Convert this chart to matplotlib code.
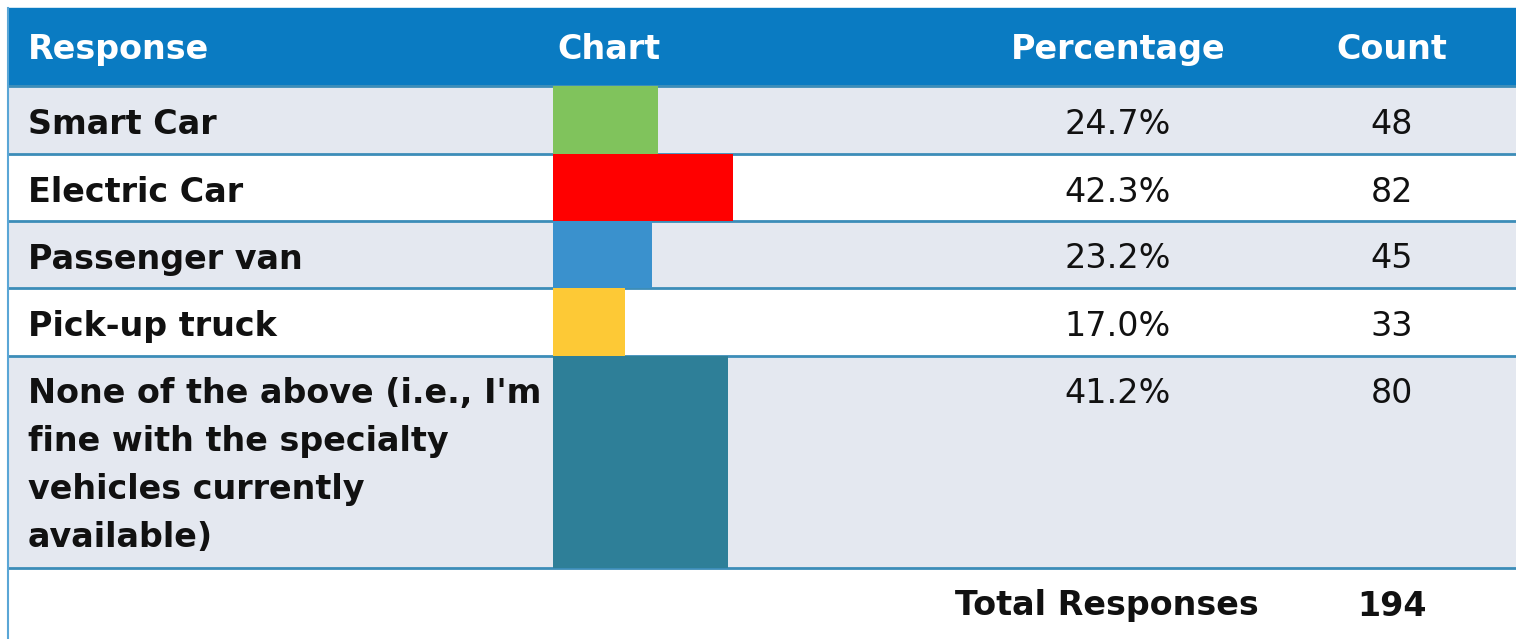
import matplotlib.pyplot as plt

# data
responses = ['Smart Car', 'Electric Car', 'Passenger van', 'Pick-up truck',
             "None of the above (i.e., I'm\nfine with the specialty\nvehicles currently\navailable)"]
percentages = [24.7, 42.3, 23.2, 17.0, 41.2]
counts = [48, 82, 45, 33, 80]
total = 194
headers = ['Response', 'Chart', 'Percentage', 'Count']
bar_colors = ['#80C35C', '#FF0000', '#3A91CD', '#FDC936', '#2E7F98']

# layout in pixels (figure is 1516 x 639)
W, H = 1516, 639
row_edges = [86, 154, 221, 288, 356, 568]
header_top = 8
line_gap = 48
x_resp, x_chart, x_pct, x_cnt = 28, 557, 1118, 1392
bar_x0 = 553
px_per_pct = 4.25

header_blue = '#0A7BC2'
row_gray = '#E4E8F0'
sep_color = '#3C8DB8'
txt = '#111111'

fig = plt.figure(figsize=(W / 100, H / 100), dpi=100)
fig.patch.set_facecolor('white')
ax = fig.add_axes([0, 0, 1, 1])
ax.set_xlim(0, W)
ax.set_ylim(H, 0)
ax.axis('off')

# header band
ax.add_patch(plt.Rectangle((8, header_top), W - 8, row_edges[0] - header_top,
                           color=header_blue, zorder=1))
hb = (header_top + row_edges[0]) / 2 + 12
ax.text(x_resp, hb, headers[0], color='white', fontsize=24, fontweight='bold', va='baseline')
ax.text(x_chart, hb, headers[1], color='white', fontsize=24, fontweight='bold', va='baseline')
ax.text(x_pct, hb, headers[2], color='white', fontsize=24, fontweight='bold', va='baseline', ha='center')
ax.text(x_cnt, hb, headers[3], color='white', fontsize=24, fontweight='bold', va='baseline', ha='center')

# row backgrounds and text
centers, heights = [], []
for i, (lab, p, c) in enumerate(zip(responses, percentages, counts)):
    top, bot = row_edges[i], row_edges[i + 1]
    if i % 2 == 0:
        ax.add_patch(plt.Rectangle((8, top), W - 8, bot - top, color=row_gray, zorder=1))
    centers.append((top + bot) / 2)
    heights.append(bot - top)
    lines = lab.split('\n')
    if len(lines) == 1:
        base = (top + bot) / 2 + 14
    else:
        base = top + 47
    for j, ln in enumerate(lines):
        ax.text(x_resp, base + j * line_gap, ln, color=txt, fontsize=24,
                fontweight='bold', va='baseline', zorder=3)
    ax.text(x_pct, base, f'{p:.1f}%', color=txt, fontsize=24, va='baseline', ha='center', zorder=3)
    ax.text(x_cnt, base, str(c), color=txt, fontsize=24, va='baseline', ha='center', zorder=3)

# total row
tb = (row_edges[-1] + H) / 2 + 12
ax.text(1107, tb, 'Total Responses', color=txt, fontsize=24, fontweight='bold',
        va='baseline', ha='center')
ax.text(x_cnt, tb, str(total), color=txt, fontsize=24, fontweight='bold',
        va='baseline', ha='center')

# separators and left border
for y in row_edges:
    ax.plot([8, W], [y, y], color=sep_color, lw=2, zorder=2, solid_capstyle='butt')
ax.plot([8, 8], [header_top, H], color='#5AA6D6', lw=1.5, zorder=2)

# bar column: its own axes, x in percent
bar_w = 200
axb = fig.add_axes([bar_x0 / W, 0, bar_w / W, 1])
axb.set_xlim(0, bar_w / px_per_pct)
axb.set_ylim(H, 0)
axb.axis('off')
axb.patch.set_alpha(0)
axb.barh(centers, percentages, height=heights, left=0, color=bar_colors, zorder=1)

fig.savefig('out.png', dpi=100)
